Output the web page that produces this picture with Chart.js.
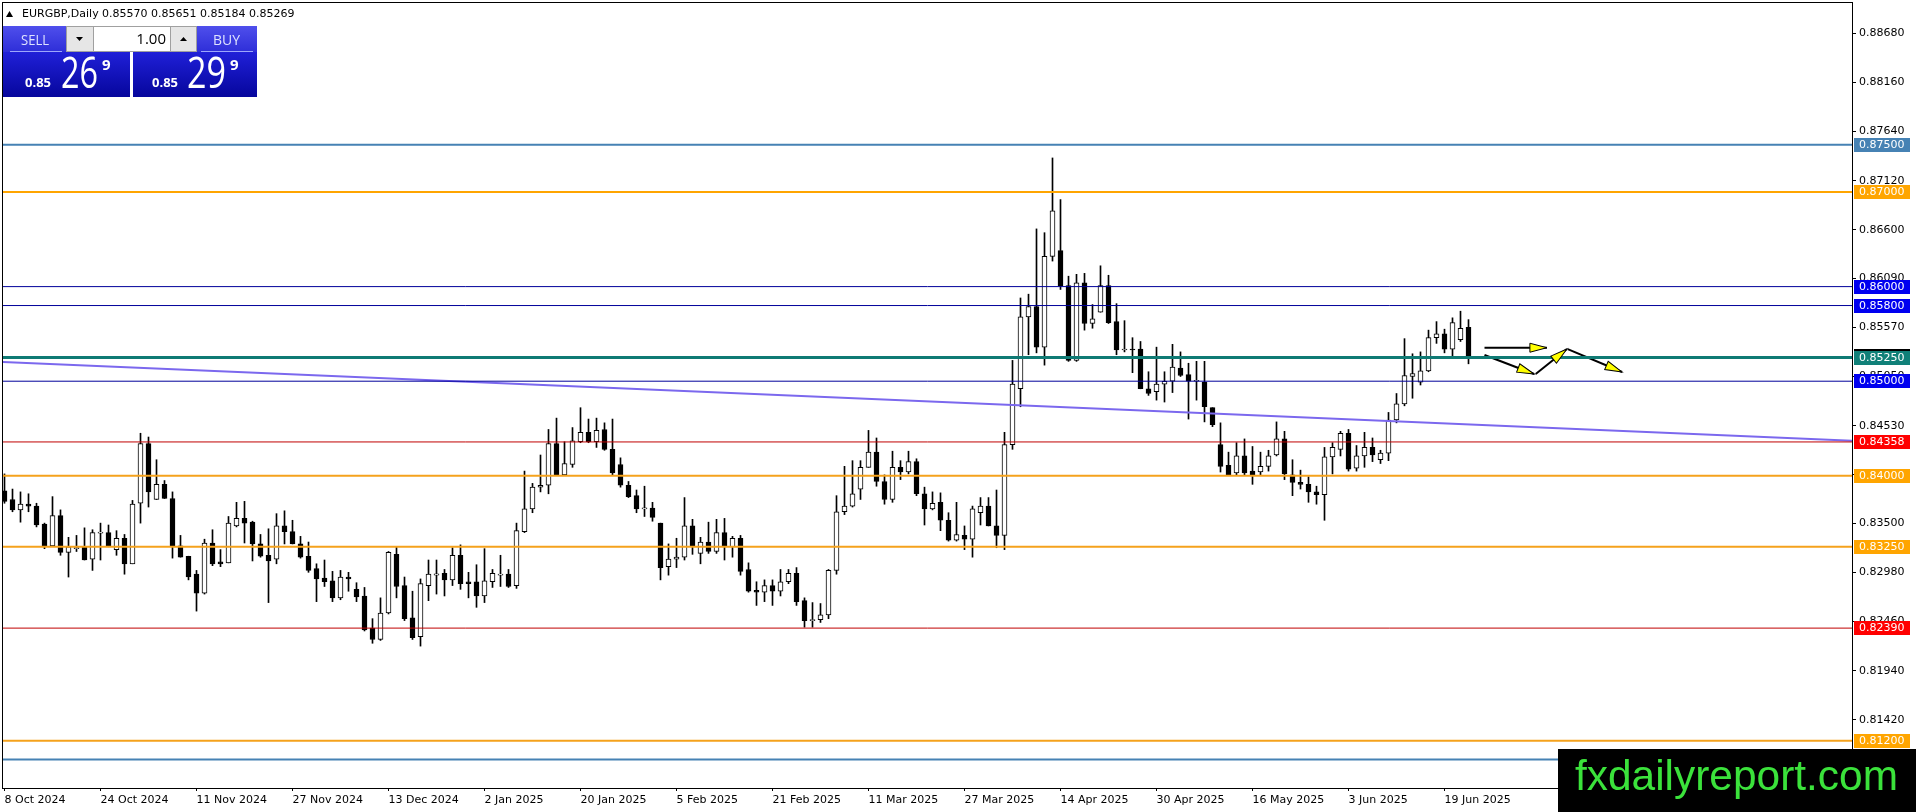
<!DOCTYPE html>
<html>
<head>
<meta charset="utf-8">
<title>EURGBP Daily</title>
<script src="https://cdn.jsdelivr.net/npm/chart.js@4.4.1/dist/chart.umd.min.js"></script>
<style>
  html, body { margin: 0; padding: 0; background: #fff; }
  #wrap { width: 1916px; height: 812px; }
</style>
</head>
<body>
<div id="wrap"><canvas id="chart" width="1916" height="812"></canvas></div>
<script>
// daily bars, 8 Oct 2024 .. 24 Jun 2025, one row = 12 bars (one date label)
const open = [
  .8384,.8375,.8364,.8370,.8368,.8349,.8326,.8358,.8319,.8323,.8325,.8312,
  .83395,.8340,.8322,.8334,.8307,.8371,.8434,.8375,.8391,.8376,.8326,.8315,
  .8296,.8276,.8329,.8309,.8308,.8347,.8355,.8351,.8328,.8316,.8312,.8347,
  .8341,.8328,.8315,.8302,.8292,.8289,.8271,.8293,.8280,.8273,.8239,.8227,
  .8255,.8317,.8284,.8250,.8230,.8284,.82951,.8297,.8290,.8316,.8288,.8288,
  .8273,.8288,.8295,.8296,.8284,.8341,.8365,.8388,.8390,.8434,.8401,.8412,
  .8436,.8446,.8436,.8449,.8428,.8412,.8390,.8379,.8365,.8366,.8350,.8304,
  .8312,.8314,.8347,.8318,.8330,.8320,.8340,.8325,.8334,.8301,.8279,.8277,
  .8284,.8278,.8288,.8297,.8268,.8247,.8248,.8253,.8300,.8362,.8368,.8386,
  .8409,.8425,.8394,.8375,.8409,.8404,.8415,.8381,.8365,.8372,.8353,.8332,
  .8337,.8333,.8361,.8368,.8347,.8337,.8433,.8492,.8568,.8579,.8536,.8632,
  .8638,.8601,.8522,.8604,.8561,.8573,.8601,.8563,.8533,.8534,.8534,.8492,
  .8489,.8497,.8500,.8514,.8507,.8500,.8499,.8472,.8433,.8411,.8403,.8421,
  .8405,.8404,.8410,.8422,.8439,.8401,.8393,.8391,.8383,.8380,.8420,.8428,
  .8445,.8408,.8421,.8430,.8417,.8424,.8459,.8476,.8505,.8499,.8511,.8546,
  .8550,.8534,.8544,.85570
];
const high = [
  .8402,.8386,.8383,.8381,.8371,.8350,.8378,.8364,.8335,.8337,.8345,.8343,
  .8350,.8348,.8342,.8338,.8374,.8445,.8441,.8417,.8395,.8383,.8337,.8315,
  .8300,.8333,.8343,.8322,.8357,.8372,.8373,.8352,.8338,.8344,.8360,.8363,
  .8353,.8336,.8330,.8307,.8311,.8299,.8300,.8298,.8287,.8282,.8249,.8271,
  .8320,.8325,.8293,.8278,.8291,.8311,.8311,.8301,.8324,.8327,.8298,.8306,
  .8323,.8301,.8316,.8301,.8350,.8405,.8392,.8422,.8449,.8461,.8436,.8451,
  .8472,.8460,.8461,.8456,.8460,.8419,.8394,.8385,.8389,.8372,.8350,.8328,
  .8334,.8377,.8354,.8335,.8351,.8354,.8355,.8336,.8337,.8308,.8288,.8290,
  .8290,.8301,.8301,.8303,.8271,.8266,.8265,.8301,.8379,.8410,.8416,.8416,
  .8448,.8440,.8401,.8426,.8416,.8426,.8418,.8388,.8383,.8382,.8361,.8372,
  .8347,.8368,.8377,.8377,.8385,.8446,.8522,.8588,.8592,.8661,.8657,.8736,
  .8692,.8611,.8613,.8614,.8581,.8622,.8612,.8582,.8564,.8546,.8542,.8510,
  .8536,.8510,.8539,.8531,.8519,.8521,.8521,.8472,.8456,.8425,.8435,.8439,
  .8431,.8425,.8427,.8457,.8447,.8417,.8406,.8399,.8389,.8430,.8435,.8447,
  .8449,.8432,.8446,.8440,.8427,.8467,.8487,.8545,.8529,.8531,.8554,.8563,
  .8555,.8567,.8574,.85651
];
const low = [
  .8371,.8362,.8351,.8362,.8346,.8323,.8326,.8316,.8293,.8320,.8311,.8300,
  .8311,.8325,.8316,.8296,.8307,.8350,.8367,.8375,.8376,.8313,.8314,.8290,
  .8257,.8275,.8305,.8304,.8308,.8346,.8329,.8310,.8314,.8266,.8307,.8328,
  .8328,.8313,.8298,.8267,.8283,.8267,.8269,.8278,.8267,.8236,.8223,.8226,
  .8254,.8271,.8247,.8227,.8220,.8268,.8275,.8273,.8284,.8280,.8271,.8261,
  .8266,.8282,.8283,.8282,.8281,.8340,.8361,.8383,.8381,.8401,.8401,.8409,
  .8435,.8435,.8430,.8427,.8401,.8388,.8377,.8361,.8357,.8352,.8290,.8295,
  .8303,.8311,.8317,.8307,.8318,.8318,.8311,.8314,.8295,.8277,.8263,.8267,
  .8263,.8273,.8286,.8263,.8240,.8240,.8245,.8249,.8296,.8359,.8367,.8375,
  .8409,.8389,.8370,.8372,.8396,.8402,.8379,.8348,.8364,.8342,.8331,.8331,
  .8322,.8314,.8348,.8347,.8324,.8322,.8428,.8473,.8528,.8530,.8517,.8627,
  .8597,.8521,.8521,.8554,.8556,.8573,.8561,.8528,.8531,.8509,.8492,.8485,
  .8480,.8478,.8488,.8505,.8460,.8480,.8457,.8452,.8404,.8401,.8401,.8401,
  .8391,.8401,.8405,.8421,.8396,.8379,.8386,.8372,.8370,.8353,.8402,.8421,
  .8405,.8405,.8409,.8415,.8413,.8416,.8456,.8474,.8482,.8496,.8510,.8540,
  .8530,.8527,.8542,.85184
];
const close = [
  .8373,.8364,.8370,.8368,.8348,.8325,.8358,.8319,.8325,.8324,.8311,.8340,
  .8340,.8326,.8334,.8307,.8370,.8434,.8383,.8391,.8376,.8325,.8314,.8293,
  .8276,.8329,.8307,.8307,.8350,.8355,.8350,.8328,.8315,.8310,.8347,.8341,
  .8328,.8314,.8300,.8291,.8288,.8271,.8293,.8291,.8272,.8237,.8227,.8255,
  .8319,.8283,.8249,.8229,.8286,.8296,.82965,.8290,.8316,.8286,.8286,.8273,
  .8289,.8297,.8296,.8283,.8342,.8365,.8388,.8390,.8434,.8401,.8413,.8437,
  .8446,.8436,.8448,.8428,.8403,.8390,.8378,.8365,.8365,.8356,.8303,.8312,
  .8314,.8347,.8326,.8330,.8320,.8340,.8326,.8334,.8299,.8278,.8277,.8284,
  .8278,.8288,.8297,.8267,.8247,.8248,.8253,.8300,.8362,.8368,.8381,.8409,
  .8425,.8394,.8375,.8409,.8404,.8415,.8381,.8365,.8371,.8353,.8332,.8338,
  .8333,.8365,.8368,.8347,.8337,.8433,.8497,.8568,.8579,.8536,.8632,.8680,
  .8601,.8522,.8604,.8561,.8566,.8601,.8562,.8533,.8533,.8533,.8492,.8487,
  .8497,.8500,.8515,.8506,.8500,.8500,.8473,.8454,.8410,.8401,.8421,.8403,
  .8401,.8410,.8421,.8439,.8402,.8393,.8391,.8383,.8380,.8420,.8430,.8445,
  .8407,.8421,.8430,.8422,.8424,.8459,.8476,.8506,.8508,.8511,.8546,.8550,
  .8534,.8562,.8556,.85269
];

const dateTickIdx = [0, 12, 24, 36, 48, 60, 72, 84, 96, 108, 120, 132, 144, 156, 168, 180];
const dateLabels = ['8 Oct 2024', '24 Oct 2024', '11 Nov 2024', '27 Nov 2024', '13 Dec 2024',
  '2 Jan 2025', '20 Jan 2025', '5 Feb 2025', '21 Feb 2025', '11 Mar 2025', '27 Mar 2025',
  '14 Apr 2025', '30 Apr 2025', '16 May 2025', '3 Jun 2025', '19 Jun 2025'];
const priceTicks = [0.88680, 0.88160, 0.87640, 0.87120, 0.86600, 0.86090, 0.85570, 0.85050,
  0.84530, 0.84010, 0.83500, 0.82980, 0.82460, 0.81940, 0.81420];

// horizontal levels
const levelValues = [0.8750, 0.8700, 0.8600, 0.8580, 0.8525, 0.8500, 0.84358, 0.8400, 0.8325, 0.8239, 0.8120, 0.8100];
const levelColors = ['#4682B4', '#FFA500', '#00009A', '#00009A', '#0F7A74', '#00009A', '#C00000', '#F5A21C', '#F5A21C', '#C00000', '#F5A21C', '#4682B4'];
const labelColors = ['#4682B4', '#FFA500', '#0000F0', '#0000F0', '#108078', '#0000F0', '#FF0000', '#FFA500', '#FFA500', '#FF0000', '#FFA500', '#4682B4'];
const levelWidths = [2, 2, 1, 1, 3, 1, 1, 2, 2, 1, 2, 2];

// falling trend line
const trendX = [-0.19, 231];
const trendY = [0.85203, 0.84371];

// scenario arrows (bar index, price)
const arrowX = [[185, 192.8], [185, 191.2], [191.4, 195.3], [195.4, 202.2]];
const arrowY = [[0.85354, 0.85354], [0.85277, 0.85076], [0.85076, 0.85340], [0.85340, 0.85097]];

const xMin = -0.1875, xMax = 230.9375;
const yMin = 0.80700, yMax = 0.88998;

Chart.defaults.font.family = 'DejaVu Sans';
Chart.defaults.font.size = 11;
Chart.defaults.color = '#000';

const bodies = close.map((c, i) => ({ x: i, y: [open[i], c] }));
const wicks = high.map((h, i) => ({ x: i, y: [low[i], h] }));

const datasets = [
  {
    type: 'bar', data: bodies, order: 1, grouped: false, barThickness: 5, minBarLength: 1,
    backgroundColor: close.map((c, i) => c >= open[i] ? '#fff' : '#000'),
    borderColor: '#000', borderWidth: 1, borderSkipped: false
  },
  {
    type: 'bar', data: wicks, order: 2, grouped: false, barThickness: 1, minBarLength: 1,
    backgroundColor: '#000', borderWidth: 0
  },
  ...levelValues.map((v, i) => ({
    type: 'line', data: [{ x: xMin, y: v }, { x: xMax, y: v }], order: 0,
    borderColor: levelColors[i], borderWidth: levelWidths[i], pointRadius: 0
  })),
  {
    type: 'line', data: trendX.map((x, i) => ({ x, y: trendY[i] })), order: 0,
    borderColor: '#7B68EE', borderWidth: 2, pointRadius: 0
  },
  ...arrowX.map((xs, i) => ({
    type: 'line', arrow: true, data: xs.map((x, j) => ({ x, y: arrowY[i][j] })), order: 0,
    borderColor: '#000', borderWidth: 2, pointRadius: 0
  }))
];

const arrowHeads = {
  id: 'arrowHeads',
  afterDatasetsDraw(chart) {
    const ctx = chart.ctx;
    chart.data.datasets.forEach((ds, i) => {
      if (!ds.arrow) return;
      const pts = chart.getDatasetMeta(i).data;
      const a = pts[pts.length - 2], b = pts[pts.length - 1];
      const ang = Math.atan2(b.y - a.y, b.x - a.x);
      ctx.save();
      ctx.translate(b.x, b.y);
      ctx.rotate(ang);
      ctx.beginPath();
      ctx.moveTo(0, 0);
      ctx.lineTo(-17, -4.5);
      ctx.lineTo(-17, 4.5);
      ctx.closePath();
      ctx.fillStyle = '#FFFF00';
      ctx.fill();
      ctx.strokeStyle = '#000';
      ctx.lineWidth = 1;
      ctx.stroke();
      ctx.restore();
    });
  }
};

function squeezeText(ctx, txt, x, y, w) {
  const m = ctx.measureText(txt).width;
  ctx.save();
  ctx.translate(x, y);
  ctx.scale(w / m, 1);
  ctx.fillText(txt, 0, 0);
  ctx.restore();
}

function drawPanel(ctx) {
  const gTop = ctx.createLinearGradient(0, 26, 0, 52);
  gTop.addColorStop(0, '#4f4fec');
  gTop.addColorStop(1, '#2e2ed8');
  const gLow = ctx.createLinearGradient(0, 52, 0, 97);
  gLow.addColorStop(0, '#2020d8');
  gLow.addColorStop(1, '#06069c');
  ctx.fillStyle = gLow;
  ctx.fillRect(3, 52, 127, 45);
  ctx.fillRect(133, 52, 124, 45);
  ctx.fillStyle = gTop;
  ctx.fillRect(3, 26, 63, 26);
  ctx.fillRect(197, 26, 60, 26);
  ctx.fillStyle = 'rgba(170,180,255,0.9)';
  ctx.fillRect(10, 51, 52, 1);
  ctx.fillRect(201, 51, 52, 1);
  // lot size control
  ctx.fillStyle = '#e6e6e6';
  ctx.fillRect(66, 26, 27, 25);
  ctx.fillRect(170, 26, 27, 25);
  ctx.fillStyle = '#fff';
  ctx.fillRect(93, 26, 77, 25);
  ctx.strokeStyle = '#a0a0a0';
  ctx.lineWidth = 1;
  ctx.strokeRect(66.5, 26.5, 130, 25);
  ctx.beginPath();
  ctx.moveTo(93.5, 26); ctx.lineTo(93.5, 51);
  ctx.moveTo(170.5, 26); ctx.lineTo(170.5, 51);
  ctx.stroke();
  ctx.fillStyle = '#000';
  ctx.beginPath();
  ctx.moveTo(76, 37); ctx.lineTo(83, 37); ctx.lineTo(79.5, 41); ctx.closePath(); ctx.fill();
  ctx.beginPath();
  ctx.moveTo(180, 41); ctx.lineTo(187, 41); ctx.lineTo(183.5, 37); ctx.closePath(); ctx.fill();
  ctx.textBaseline = 'alphabetic';
  ctx.textAlign = 'right';
  ctx.font = '15px "Open Sans"';
  ctx.fillText('1.00', 166, 44);
  ctx.textAlign = 'left';
  ctx.fillStyle = '#dfe3ff';
  ctx.font = '15px "Open Sans"';
  squeezeText(ctx, 'SELL', 21, 45, 28);
  squeezeText(ctx, 'BUY', 213, 45, 27);
  ctx.fillStyle = '#fff';
  ctx.font = 'bold 13px "Open Sans"';
  ctx.fillText('0.85', 25, 87);
  ctx.fillText('0.85', 152, 87);
  ctx.font = '44px "Open Sans"';
  squeezeText(ctx, '26', 61, 88, 37);
  squeezeText(ctx, '29', 187, 88, 39);
  ctx.font = 'bold 15px "Open Sans"';
  ctx.fillText('9', 102, 70);
  ctx.fillText('9', 230, 70);
}

const overlay = {
  id: 'overlay',
  afterDraw(chart) {
    const { ctx, chartArea, scales } = chart;
    const y = scales.y;
    ctx.save();
    // frame
    ctx.strokeStyle = '#000';
    ctx.lineWidth = 1;
    ctx.strokeRect(chartArea.left - 0.5, chartArea.top - 0.5, chartArea.right - chartArea.left + 1, chartArea.bottom - chartArea.top + 1);
    // price tags on the axis
    ctx.font = '11px "DejaVu Sans"';
    ctx.textBaseline = 'middle';
    ctx.textAlign = 'left';
    const tag = (v, col) => {
      const py = Math.round(y.getPixelForValue(v));
      ctx.fillStyle = col;
      ctx.fillRect(chartArea.right + 2, py - 7, 56, 14);
      ctx.fillStyle = '#fff';
      ctx.fillText(v.toFixed(5), chartArea.right + 7, py + 0.5);
    };
    tag(close[close.length - 1], '#000');
    levelValues.forEach((v, i) => tag(v, labelColors[i]));
    // symbol header
    ctx.fillStyle = '#000';
    ctx.beginPath();
    ctx.moveTo(6, 17); ctx.lineTo(13, 17); ctx.lineTo(9.5, 11); ctx.closePath(); ctx.fill();
    ctx.fillText('EURGBP,Daily', 22, 14);
    ctx.fillText([open, high, low, close].map(a => a[a.length - 1].toFixed(5)).join(' '), 102, 14);
    drawPanel(ctx);
    // watermark
    ctx.fillStyle = '#000';
    ctx.fillRect(1558, 749, 358, 63);
    ctx.fillStyle = '#3BE23B';
    ctx.font = '42px "Liberation Sans"';
    ctx.textBaseline = 'alphabetic';
    squeezeText(ctx, 'fxdailyreport.com', 1575, 790, 323);
    ctx.restore();
  }
};

new Chart(document.getElementById('chart'), {
  type: 'bar',
  data: { datasets },
  options: {
    responsive: false,
    animation: false,
    events: [],
    layout: { padding: { left: 3, top: 3, right: 0, bottom: 0 } },
    plugins: { legend: { display: false }, tooltip: { enabled: false } },
    scales: {
      x: {
        type: 'linear', min: xMin, max: xMax, offset: false,
        grid: { offset: false, drawOnChartArea: false, drawTicks: true, tickLength: 3, color: '#000' },
        border: { display: false },
        afterBuildTicks: (axis) => { axis.ticks = dateTickIdx.map(v => ({ value: v })); },
        afterFit: (axis) => { axis.height = 24; axis.paddingLeft = 0; axis.paddingRight = 0; },
        ticks: {
          autoSkip: false, maxRotation: 0, align: 'start', padding: 3,
          callback: (v, i) => dateLabels[i]
        }
      },
      y: {
        type: 'linear', position: 'right', min: yMin, max: yMax, beginAtZero: false,
        grid: { drawOnChartArea: false, drawTicks: true, tickLength: 4, color: '#000' },
        border: { display: false },
        afterBuildTicks: (axis) => { axis.ticks = priceTicks.map(v => ({ value: v })); },
        afterFit: (axis) => { axis.width = 64; axis.paddingTop = 0; axis.paddingBottom = 0; },
        ticks: { padding: 3, callback: (v) => v.toFixed(5) }
      }
    }
  },
  plugins: [arrowHeads, overlay]
});
</script>
</body>
</html>
